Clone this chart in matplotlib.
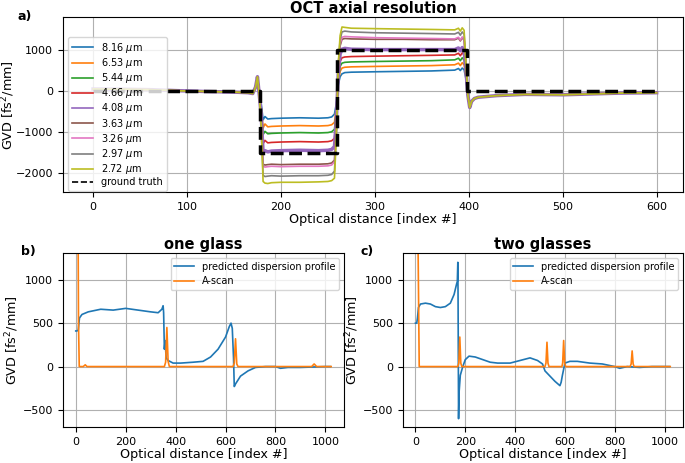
import numpy as np
import matplotlib
matplotlib.use('Agg')
import matplotlib.pyplot as plt

# --- a) OCT axial resolution ---
res_labels = ['8.16 $\\mu$m', '6.53 $\\mu$m', '5.44 $\\mu$m', '4.66 $\\mu$m', '4.08 $\\mu$m',
              '3.63 $\\mu$m', '3.26 $\\mu$m', '2.97 $\\mu$m', '2.72 $\\mu$m']

# part before the first glass (same for all resolutions)
x_left = [0, 30, 60, 90, 120, 150, 165, 170, 173, 175, 177]
gvd_left = [50, 45, 35, 10, -10, -25, -40, -60, 100, 350, -100]

# glass part, one list per resolution
x_mid = [179, 181, 183, 186, 190, 200, 220, 240, 250, 254, 257, 259, 261, 263, 265,
         268, 275, 300, 330, 360, 385, 389, 391, 393, 395, 397]
gvd_816 = [-300, -700, -620, -680, -670, -660, -650, -660, -650, -630, -560, -300, 150, 350, 420,
           450, 460, 470, 480, 490, 510, 550, 500, 560, 520, 300]
gvd_653 = [-400, -900, -800, -870, -860, -850, -840, -850, -840, -820, -760, -400, 200, 480, 560,
           580, 590, 600, 610, 620, 640, 680, 620, 690, 640, 350]
gvd_544 = [-450, -1060, -980, -1040, -1030, -1020, -1010, -1020, -1010, -990, -930, -500, 250, 600, 680,
           700, 710, 720, 730, 740, 760, 800, 740, 810, 760, 400]
gvd_466 = [-500, -1280, -1200, -1260, -1250, -1240, -1230, -1240, -1230, -1210, -1150, -600, 300, 720, 810,
           830, 840, 850, 860, 870, 880, 920, 860, 930, 880, 450]
gvd_408 = [-600, -1500, -1450, -1480, -1460, -1450, -1440, -1450, -1440, -1420, -1350, -700, 400, 900, 1020,
           1040, 1020, 1010, 1010, 1010, 1010, 1050, 980, 1060, 1000, 500]
gvd_363 = [-700, -1780, -1800, -1790, -1780, -1790, -1780, -1780, -1770, -1750, -1680, -850, 500, 1100, 1260,
           1280, 1270, 1260, 1260, 1250, 1250, 1290, 1220, 1300, 1240, 600]
gvd_326 = [-750, -1830, -1850, -1840, -1830, -1840, -1830, -1830, -1820, -1800, -1720, -900, 550, 1150, 1310,
           1330, 1320, 1300, 1290, 1280, 1270, 1310, 1240, 1320, 1260, 620]
gvd_297 = [-800, -2050, -2080, -2070, -2060, -2070, -2060, -2060, -2050, -2030, -1950, -1000, 600, 1250, 1440,
           1460, 1440, 1420, 1410, 1400, 1390, 1430, 1360, 1440, 1380, 650]
gvd_272 = [-850, -2200, -2240, -2250, -2230, -2220, -2220, -2210, -2200, -2180, -2120, -1100, 650, 1350, 1560,
           1550, 1530, 1520, 1510, 1500, 1490, 1530, 1460, 1540, 1480, 700]
gvd_mid = [gvd_816, gvd_653, gvd_544, gvd_466, gvd_408, gvd_363, gvd_326, gvd_297, gvd_272]

# part after the second glass (same for all)
x_right = [399, 401, 403, 406, 410, 430, 460, 500, 530, 560, 600]
gvd_right = [-100, -400, -250, -180, -150, -110, -80, -90, -70, -50, -40]

x_truth = [0, 178, 178, 260, 260, 398, 398, 600]
gvd_truth = [0, 0, -1500, -1500, 1000, 1000, 0, 0]

# --- b) one glass ---
x_pred_b = [0, 5, 10, 12, 15, 25, 50, 100, 150, 200, 250, 300, 330, 345, 350, 352, 355, 358, 362,
            370, 390, 420, 470, 510, 540, 570, 600, 615, 622, 627, 632, 635, 640, 660, 690, 720,
            760, 800, 820, 850, 900, 950, 1000, 1020]
pred_b = [410, 410, 420, 480, 560, 600, 630, 660, 650, 670, 650, 630, 620, 660, 700, 620, 200, 300, 100,
          70, 40, 40, 50, 60, 110, 200, 340, 460, 500, 440, 100, -230, -200, -110, -50, -10,
          0, 0, -20, -10, -10, -5, 0, 0]
x_scan_b = [0, 5, 8, 11, 14, 30, 38, 45, 100, 355, 360, 365, 370, 375, 630, 635, 640, 645, 650,
            945, 955, 965, 1023]
scan_b = [2000, 3000, 2500, 500, 0, 0, 20, 0, 0, 0, 50, 450, 60, 0, 0, 40, 320, 30, 0,
          0, 30, 0, 0]

# --- c) two glasses ---
x_pred_c = [0, 5, 8, 12, 20, 40, 60, 80, 100, 120, 140, 155, 165, 168, 170, 171, 172, 173, 175,
            180, 190, 200, 215, 240, 270, 300, 330, 380, 420, 460, 490, 510, 520, 540, 560, 580,
            585, 590, 600, 620, 650, 700, 750, 800, 820, 850, 900, 950, 1020]
pred_c = [500, 500, 560, 680, 720, 730, 720, 690, 680, 690, 730, 830, 950, 980, 1200, 800, 100, -600, -300,
          -100, 0, 80, 120, 110, 80, 50, 40, 40, 70, 100, 70, 30, -50, -110, -170, -220,
          -180, -100, 40, 60, 60, 40, 30, 0, -20, 0, -10, 0, 0]
x_scan_c = [0, 5, 10, 15, 170, 174, 178, 182, 186, 520, 524, 528, 532, 536, 588, 591, 595, 599, 603,
            862, 866, 870, 874, 878, 1023]
scan_c = [2000, 3000, 1500, 0, 0, 40, 340, 40, 0, 0, 40, 280, 40, 0, 0, 40, 300, 40, 0,
          0, 30, 180, 30, 0, 0]

colors = ['tab:blue', 'tab:orange', 'tab:green', 'tab:red', 'tab:purple',
          'tab:brown', 'tab:pink', 'tab:gray', 'tab:olive']

fig = plt.figure(figsize=(6.85, 4.63), dpi=100)
ax = fig.add_axes([0.092, 0.585, 0.905, 0.378])
for i in range(len(res_labels)):
    xs = x_left + x_mid + x_right
    ys = gvd_left + gvd_mid[i] + gvd_right
    lw = 2.5 if i == 4 else 1.2
    ax.plot(xs, ys, color=colors[i], linewidth=lw, label=res_labels[i])
ax.plot(x_truth, gvd_truth, 'k--', linewidth=2.5, label='ground truth')
ax.set_xlim(-32, 628)
ax.set_ylim(-2460, 1800)
ax.set_xticks([0, 100, 200, 300, 400, 500, 600])
ax.set_yticks([-2000, -1000, 0, 1000])
ax.grid(True)
ax.set_title('OCT axial resolution', fontsize=10.5, fontweight='bold', pad=3)
ax.set_xlabel('Optical distance [index #]', fontsize=9.2, labelpad=1)
ax.set_ylabel('GVD [fs$^2$/mm]', fontsize=9.2)
ax.yaxis.set_label_coords(-0.075, 0.5)
ax.tick_params(labelsize=8)
leg = ax.legend(loc='upper left', fontsize=7, handlelength=2.2, labelspacing=0.12,
                bbox_to_anchor=(0.0, 0.915))
for h in leg.get_lines():
    h.set_linewidth(1.2)
fig.text(0.025, 0.965, 'a)', fontsize=9, fontweight='bold', va='center')

ax_b = fig.add_axes([0.092, 0.077, 0.41, 0.377])
ax_b.plot(x_pred_b, pred_b, color='tab:blue', linewidth=1.2, label='predicted dispersion profile')
ax_b.plot(x_scan_b, scan_b, color='tab:orange', linewidth=1.2, label='A-scan')
ax_c = fig.add_axes([0.588, 0.077, 0.409, 0.377])
ax_c.plot(x_pred_c, pred_c, color='tab:blue', linewidth=1.2, label='predicted dispersion profile')
ax_c.plot(x_scan_c, scan_c, color='tab:orange', linewidth=1.2, label='A-scan')

for a, t in [(ax_b, 'one glass'), (ax_c, 'two glasses')]:
    a.set_xlim(-51, 1074)
    a.set_ylim(-700, 1310)
    a.set_xticks([0, 200, 400, 600, 800, 1000])
    a.set_yticks([-500, 0, 500, 1000])
    a.grid(True)
    a.set_title(t, fontsize=10.5, fontweight='bold', pad=3)
    a.set_xlabel('Optical distance [index #]', fontsize=9.2, labelpad=1)
    a.set_ylabel('GVD [fs$^2$/mm]', fontsize=9.2)
    a.yaxis.set_label_coords(-0.15, 0.5)
    a.tick_params(labelsize=8)
    a.legend(loc='upper right', fontsize=7)

fig.text(0.031, 0.456, 'b)', fontsize=9, fontweight='bold', va='center')
fig.text(0.526, 0.456, 'c)', fontsize=9, fontweight='bold', va='center')

plt.savefig('out.png', dpi=100)
